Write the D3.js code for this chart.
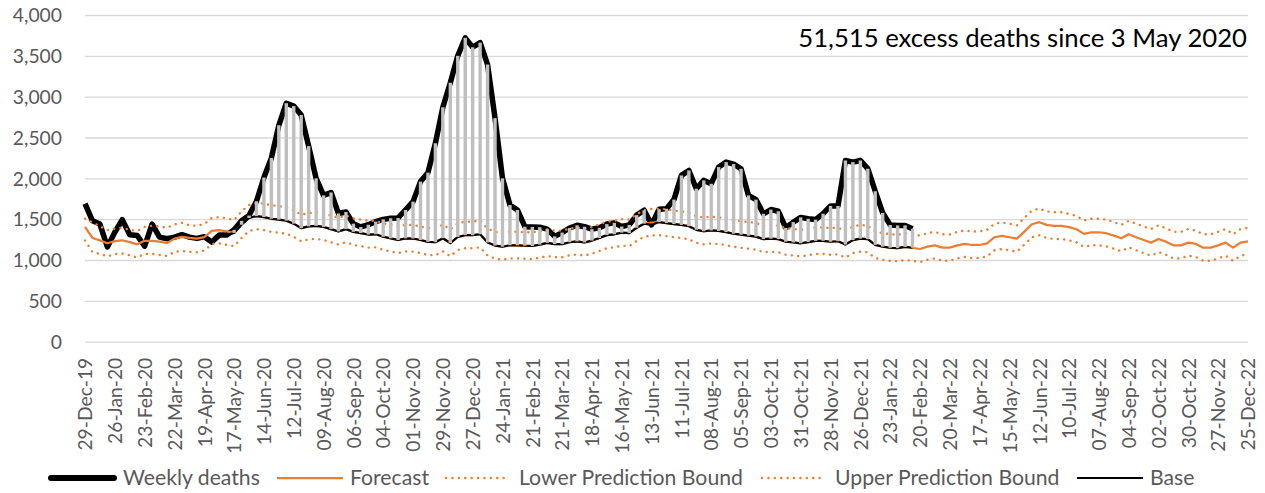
<!DOCTYPE html>
<html><head><meta charset="utf-8">
<script src="https://cdn.jsdelivr.net/npm/d3@7"></script>
<style>
body{margin:0;background:#fff}
svg{display:block}
text{font-family:Lato,"Open Sans",sans-serif}
</style>
</head><body>
<svg id="chart" width="1265" height="493"></svg>
<script>
// ---------- DATA ----------
const startDate = "2019-12-29";
const nWeeks = 157;
const tickLabels = ["29-Dec-19","26-Jan-20","23-Feb-20","22-Mar-20","19-Apr-20","17-May-20","14-Jun-20","12-Jul-20","09-Aug-20","06-Sep-20","04-Oct-20","01-Nov-20","29-Nov-20","27-Dec-20","24-Jan-21","21-Feb-21","21-Mar-21","18-Apr-21","16-May-21","13-Jun-21","11-Jul-21","08-Aug-21","05-Sep-21","03-Oct-21","31-Oct-21","28-Nov-21","26-Dec-21","23-Jan-22","20-Feb-22","20-Mar-22","17-Apr-22","15-May-22","12-Jun-22","10-Jul-22","07-Aug-22","04-Sep-22","02-Oct-22","30-Oct-22","27-Nov-22","25-Dec-22"];
const yTicks = [0,500,1000,1500,2000,2500,3000,3500,4000];

const weeklyDeaths = [1690,1480,1440,1160,1340,1495,1310,1300,1170,1440,1280,1260,1280,1310,1280,1265,1285,1220,1305,1305,
1370,1480,1545,1720,2010,2250,2650,2920,2885,2775,2395,2000,1792,1827,1570,1588,1445,1405,1432,1470,
1498,1511,1515,1613,1715,1960,2070,2430,2870,3170,3500,3720,3605,3662,3393,2737,2000,1674,1613,1408,
1405,1402,1378,1290,1336,1392,1425,1408,1378,1395,1440,1455,1410,1430,1550,1610,1430,1622,1628,1740,
2036,2097,1873,1975,1934,2138,2199,2175,2117,1791,1740,1566,1618,1597,1393,1465,1522,1505,1495,1567,
1662,1662,2219,2199,2219,2118,1842,1577,1430,1424,1424,1383];

const forecast = [1405,1270,1240,1205,1232,1242,1220,1192,1235,1235,1224,1208,1262,1283,1272,1262,1280,1358,1365,1350,
1332,1432,1515,1538,1525,1505,1495,1482,1445,1390,1412,1418,1405,1378,1350,1378,1345,1330,1312,1315,
1285,1265,1245,1265,1263,1245,1222,1218,1267,1208,1282,1304,1304,1316,1215,1177,1163,1181,1180,1175,
1172,1188,1210,1194,1195,1218,1228,1215,1238,1270,1305,1315,1335,1330,1395,1445,1458,1465,1452,1440,
1430,1414,1370,1352,1362,1356,1342,1322,1310,1298,1287,1256,1261,1256,1224,1215,1205,1220,1234,1235,
1224,1230,1190,1244,1262,1255,1185,1163,1150,1145,1160,1150,1135,1164,1180,1151,1151,1180,1197,1184,
1184,1205,1279,1295,1279,1262,1348,1438,1463,1430,1418,1418,1402,1377,1320,1340,1340,1328,1299,1266,
1316,1279,1246,1213,1258,1225,1180,1180,1213,1197,1151,1151,1180,1213,1151,1213,1229];

const lowerBound = [1240,1100,1075,1045,1072,1080,1058,1032,1075,1075,1062,1050,1100,1110,1100,1095,1115,1195,1205,1185,
1170,1270,1355,1378,1365,1345,1335,1322,1285,1230,1252,1258,1245,1218,1190,1218,1185,1170,1152,1155,
1125,1105,1085,1105,1103,1085,1062,1058,1107,1048,1122,1144,1144,1156,1055,1017,1003,1021,1020,1015,
1012,1028,1050,1034,1035,1058,1068,1055,1078,1110,1145,1155,1175,1170,1235,1285,1298,1305,1292,1280,
1270,1254,1210,1192,1202,1196,1182,1162,1150,1138,1127,1096,1101,1096,1064,1055,1045,1060,1074,1075,
1064,1070,1030,1084,1102,1095,1025,1003,990,985,1000,990,975,1004,1020,991,991,1020,1037,1024,
1024,1045,1119,1135,1119,1102,1188,1278,1303,1270,1258,1258,1242,1217,1160,1180,1180,1168,1139,1106,
1156,1119,1086,1053,1098,1065,1020,1020,1053,1037,991,991,1020,1053,991,1053,1069];

const upperBound = [1505,1460,1415,1365,1385,1395,1370,1355,1405,1420,1410,1395,1435,1455,1425,1420,1440,1515,1525,1510,
1490,1595,1675,1700,1690,1670,1660,1645,1610,1555,1575,1585,1570,1545,1515,1545,1510,1495,1480,1480,
1450,1430,1410,1430,1430,1410,1390,1385,1435,1375,1450,1470,1470,1485,1385,1345,1330,1350,1345,1340,
1340,1355,1375,1360,1360,1385,1395,1380,1405,1435,1470,1480,1500,1495,1560,1610,1625,1630,1620,1605,
1595,1580,1535,1520,1530,1520,1510,1490,1475,1465,1455,1420,1425,1420,1390,1380,1370,1385,1400,1400,
1390,1395,1355,1410,1430,1420,1350,1330,1315,1310,1325,1315,1300,1330,1345,1315,1315,1345,1360,1350,
1350,1370,1445,1460,1445,1425,1515,1605,1630,1595,1585,1585,1565,1540,1485,1505,1505,1495,1465,1430,
1480,1445,1410,1380,1425,1390,1345,1345,1380,1360,1315,1315,1345,1380,1315,1380,1395];

// Base series: starts 3 May 2020 (week 18), ends with the last observed week
const baseStart = 18;
const base = [1305,1305,1332,1432,1515,1538,1525,1505,1495,1482,1445,1390,1412,1418,1405,1378,1350,1378,1345,1330,
1312,1315,1285,1265,1245,1265,1263,1245,1222,1218,1267,1208,1282,1304,1304,1316,1215,1177,1163,1181,
1180,1175,1172,1188,1210,1194,1195,1218,1228,1215,1238,1270,1305,1315,1335,1330,1395,1445,1430,1465,
1452,1440,1430,1414,1370,1352,1362,1356,1342,1322,1310,1298,1287,1256,1261,1256,1224,1215,1205,1220,
1234,1235,1224,1230,1190,1244,1262,1255,1185,1163,1150,1145,1160,1150];

const annotation = "51,515 excess deaths since 3 May 2020";
const legendItems = ["Weekly deaths","Forecast","Lower Prediction Bound","Upper Prediction Bound","Base"];

// ---------- CHART ----------
(function () {
const svg = d3.select("#chart");
const pL = 85, pR = 1248, pT = 15, pB = 341.7;
const ORANGE = "#ED7D31", GRID = "#D9D9D9", TXT = "#595959";

const parse = d3.timeParse("%Y-%m-%d");
const categories = d3.range(nWeeks).map(i => d3.timeDay.offset(parse(startDate), 7 * i));
const x = d3.scalePoint().domain(d3.range(nWeeks)).range([pL, pR]);
const y = d3.scaleLinear().domain([0, 4000]).range([pB, pT]);

// gridlines
svg.append("g")
  .attr("transform", `translate(${pL},0)`)
  .call(d3.axisLeft(y).tickValues(yTicks).tickSize(-(pR - pL)).tickFormat(""))
  .call(g => g.select(".domain").remove())
  .call(g => g.selectAll("line").attr("stroke", GRID).attr("stroke-width", 1.3));

// y labels
const yAxis = svg.append("g")
  .attr("transform", `translate(${pL},0)`)
  .call(d3.axisLeft(y).tickValues(yTicks).tickSize(0).tickPadding(23).tickFormat(d3.format(",")))
  .call(g => g.select(".domain").remove());
yAxis.selectAll("text").attr("fill", TXT).style("font-size", "20px").attr("dy", "0.35em");

// x labels
const tickIdx = d3.range(0, nWeeks, 4);
const xAxis = svg.append("g")
  .attr("transform", `translate(0,${pB})`)
  .call(d3.axisBottom(x).tickValues(tickIdx).tickSize(0).tickFormat((d, i) => tickLabels[i]))
  .call(g => g.select(".domain").remove());
xAxis.selectAll("text")
  .attr("fill", TXT).style("font-size", "20px")
  .attr("text-anchor", "end")
  .attr("x", 0).attr("y", 0).attr("dy", "0.35em")
  .attr("transform", "translate(0,16) rotate(-90)");

function fitSize(sel, target, baseSize) {
  const w = sel.node().getComputedTextLength();
  return baseSize * target / w;
}
const probe = svg.append("text").style("font-size", "20px").text("29-Dec-19");
const tickFont = fitSize(probe, 93, 20);
probe.remove();
xAxis.selectAll("text").style("font-size", tickFont + "px");
yAxis.selectAll("text").style("font-size", tickFont + "px");

const lineGen = arr => d3.line()
  .defined(d => d.v != null)
  .x(d => x(d.i)).y(d => y(d.v))(arr);
const toPts = (arr, off = 0) => arr.map((v, i) => ({ i: i + off, v }));

// Weekly deaths
svg.append("path").attr("d", lineGen(toPts(weeklyDeaths)))
  .attr("fill", "none").attr("stroke", "#000").attr("stroke-width", 5.5)
  .attr("stroke-linejoin", "round");

// Forecast
svg.append("path").attr("d", lineGen(toPts(forecast)))
  .attr("fill", "none").attr("stroke", ORANGE).attr("stroke-width", 2.25)
  .attr("stroke-linejoin", "round");

// Bounds
[lowerBound, upperBound].forEach(arr => {
  svg.append("path").attr("d", lineGen(toPts(arr)))
    .attr("fill", "none").attr("stroke", ORANGE).attr("stroke-width", 2.4)
    .attr("stroke-dasharray", "0.1 6.3").attr("stroke-linecap", "round");
});

// Base
svg.append("path").attr("d", lineGen(toPts(base, baseStart)))
  .attr("fill", "none").attr("stroke", "#000").attr("stroke-width", 2.2)
  .attr("stroke-linejoin", "round");

// Excess bars (base -> weekly deaths)
svg.append("g").selectAll("line")
  .data(base.map((b, k) => ({ i: k + baseStart, b, d: weeklyDeaths[k + baseStart] })))
  .join("line")
  .attr("x1", d => x(d.i)).attr("x2", d => x(d.i))
  .attr("y1", d => y(d.b)).attr("y2", d => y(d.d))
  .attr("stroke", "#BFBFBF").attr("stroke-width", 3.4);

// Annotation
const ann = svg.append("text").attr("x", 1247).attr("y", 47)
  .attr("text-anchor", "end").attr("fill", "#000").style("font-size", "24px").text(annotation);
ann.style("font-size", fitSize(ann, 449, 24) + "px");

// Legend
const ly = 478;
const leg = svg.append("g");
const legDefs = [
  { x1: 51, x2: 114, tx: 123, stroke: "#000", w: 6, dash: null, cap: "round" },
  { x1: 277, x2: 343, tx: 350, stroke: ORANGE, w: 2.25, dash: null, cap: "butt" },
  { x1: 446, x2: 507, tx: 519, stroke: ORANGE, w: 2.4, dash: "0.1 6.3", cap: "round" },
  { x1: 762, x2: 823, tx: 835, stroke: ORANGE, w: 2.4, dash: "0.1 6.3", cap: "round" },
  { x1: 1077, x2: 1143, tx: 1150, stroke: "#000", w: 2.2, dash: null, cap: "butt" }
];
const legTexts = [];
legDefs.forEach((d, k) => {
  leg.append("line").attr("x1", d.x1).attr("x2", d.x2).attr("y1", ly).attr("y2", ly)
    .attr("stroke", d.stroke).attr("stroke-width", d.w)
    .attr("stroke-dasharray", d.dash).attr("stroke-linecap", d.cap);
  legTexts.push(leg.append("text").attr("x", d.tx).attr("y", ly).attr("dy", "0.35em")
    .attr("fill", TXT).style("font-size", "20px").text(legendItems[k]));
});
const legFont = fitSize(legTexts[2], 224, 20);
legTexts.forEach(t => t.style("font-size", legFont + "px"));
})();
</script>
</body></html>
